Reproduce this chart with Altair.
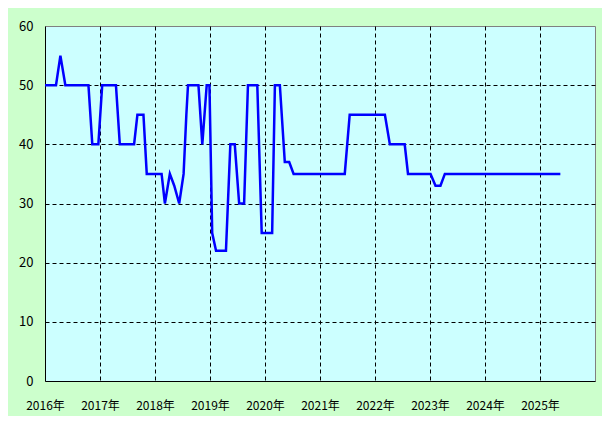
import altair as alt
import pandas as pd

# Series (decimal year, value)
years = [2016.00, 2016.20, 2016.28, 2016.37, 2016.79, 2016.86, 2016.97, 2017.04,
         2017.29, 2017.36, 2017.62, 2017.68, 2017.79, 2017.85, 2018.12, 2018.18,
         2018.27, 2018.35, 2018.44, 2018.52, 2018.57, 2018.60, 2018.79, 2018.86,
         2018.94, 2018.99, 2019.04, 2019.11, 2019.29, 2019.37, 2019.45, 2019.53,
         2019.62, 2019.69, 2019.86, 2019.94, 2020.13, 2020.18, 2020.27, 2020.36,
         2020.44, 2020.52, 2021.45, 2021.54, 2022.18, 2022.27, 2022.54, 2022.60,
         2023.01, 2023.10, 2023.19, 2023.27, 2025.37]
values = [50, 50, 55, 50, 50, 40, 40, 50,
          50, 40, 40, 45, 45, 35, 35, 30,
          35, 33, 30, 35, 45, 50, 50, 40,
          50, 50, 25, 22, 22, 40, 40, 30,
          30, 50, 50, 25, 25, 50, 50, 37,
          37, 35, 35, 45, 45, 40, 40, 35,
          35, 33, 33, 35, 35]

x_ticks = [2016, 2017, 2018, 2019, 2020, 2021, 2022, 2023, 2024, 2025]
y_ticks = [0, 10, 20, 30, 40, 50, 60]

df = pd.DataFrame({"year": years, "value": values})

FONT = "Noto Sans CJK JP"

chart = alt.Chart(df).mark_line(color="#0000ff", strokeWidth=2.5, clip=True).encode(
    x=alt.X("year:Q",
            scale=alt.Scale(domain=[2016, 2026], nice=False, zero=False),
            axis=alt.Axis(values=x_ticks, title=None, ticks=False,
                          labelExpr="datum.value + '年'",
                          labelPadding=19, labelFontSize=12, labelFont=FONT,
                          labelColor="black", labelFlush=False,
                          domainColor="black", domainWidth=1,
                          grid=True, gridColor="black", gridDash=[4, 3], gridWidth=1,
                          gridOpacity={"condition": {"test": "datum.value == 2016", "value": 0}, "value": 1})),
    y=alt.Y("value:Q",
            scale=alt.Scale(domain=[0, 60], nice=False),
            axis=alt.Axis(values=y_ticks, title=None, ticks=False,
                          labelPadding=12, labelFontSize=13, labelFont=FONT,
                          labelColor="black", labelFlush=False,
                          domainColor="black", domainWidth=1,
                          grid=True, gridColor="black", gridDash=[4, 3], gridWidth=1,
                          gridOpacity={"condition": {"test": "datum.value == 0 || datum.value == 60", "value": 0}, "value": 1})),
).properties(
    width=550,
    height=355,
    autosize=alt.AutoSizeParams(type="none"),
    padding={"left": 37, "top": 18, "right": 7, "bottom": 35},
    background="#ccffcc",
).configure_view(
    fill="#ccffff",
    stroke="#808080",
    strokeWidth=1,
)

chart.save("out.html", embed_options={"renderer": "svg", "actions": False})
